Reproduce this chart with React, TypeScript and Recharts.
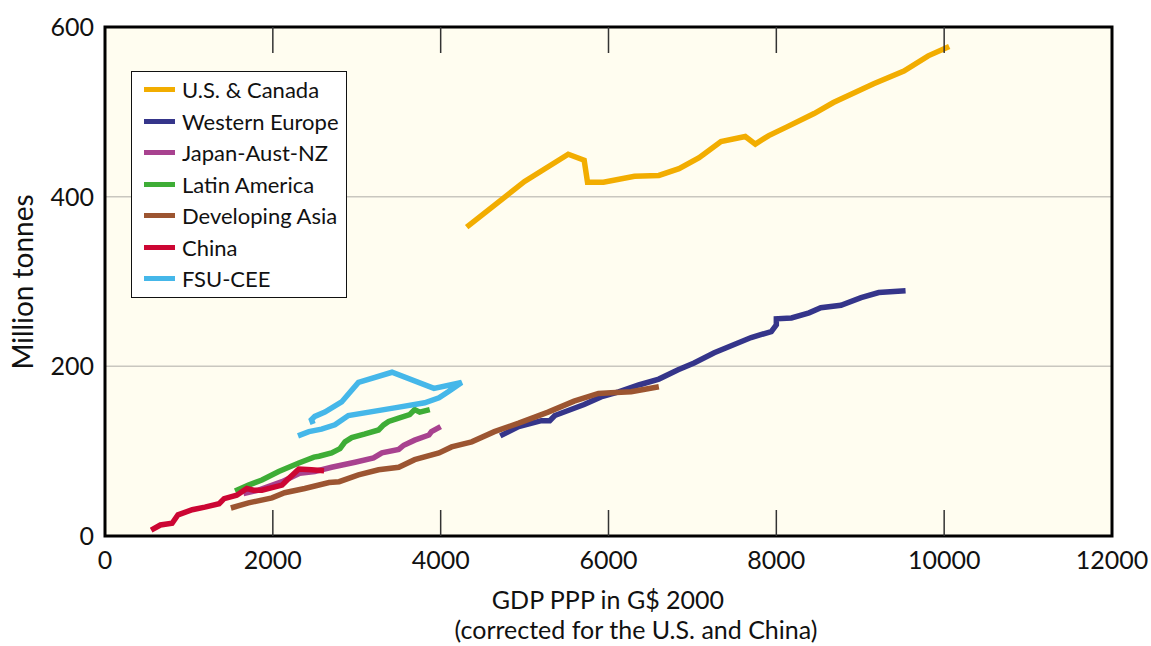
import {
  LineChart,
  Line,
  XAxis,
  YAxis,
  CartesianGrid,
  ReferenceArea,
  Legend,
} from "recharts";

const W = 1151;
const H = 646;
const PLOT_TOP = 27;
const PLOT_BOTTOM = 536;
const FONT = "Lato, 'DejaVu Sans', sans-serif";

const xTicks = [0, 2000, 4000, 6000, 8000, 10000, 12000];
const yTicks = [0, 200, 400, 600];

// GDP (x) and steel use (y), in time order
const usCanadaGdp = [4310, 5000, 5520, 5710, 5750, 5940, 6310, 6600, 6840, 7080, 7340, 7630, 7750, 7910, 8120, 8450, 8680, 9160, 9520, 9810, 10060];
const usCanadaSteel = [364, 418, 450, 443, 417, 417, 424, 425, 433, 446, 465, 471, 462, 472, 482, 498, 511, 533, 548, 566, 577];

const westEuropeGdp = [4710, 4930, 5200, 5300, 5360, 5710, 5910, 6120, 6360, 6600, 6830, 7020, 7260, 7700, 7940, 8000, 8000, 8180, 8390, 8530, 8770, 9010, 9220, 9540];
const westEuropeSteel = [118, 129, 136, 136, 142, 155, 164, 170, 178, 185, 196, 204, 216, 234, 241, 249, 256, 257, 263, 269, 272, 281, 287, 289];

const japanGdp = [1650, 1830, 2110, 2320, 2500, 2700, 2980, 3200, 3300, 3500, 3560, 3690, 3860, 3890, 4000];
const japanSteel = [50, 54, 64, 74, 76, 81, 87, 92, 98, 102, 107, 113, 119, 123, 129];

const latinGdp = [1550, 1710, 1870, 2070, 2310, 2490, 2550, 2700, 2800, 2860, 2940, 3090, 3260, 3320, 3380, 3500, 3630, 3690, 3750, 3870];
const latinSteel = [53, 60, 66, 76, 86, 93, 94, 98, 103, 111, 116, 120, 125, 131, 135, 139, 143, 149, 146, 149];

const devAsiaGdp = [1500, 1710, 1990, 2140, 2380, 2670, 2790, 3020, 3260, 3500, 3690, 3980, 4130, 4370, 4640, 4930, 5280, 5590, 5880, 6030, 6270, 6600];
const devAsiaSteel = [33, 39, 45, 51, 56, 63, 64, 72, 78, 81, 90, 98, 105, 111, 123, 133, 146, 159, 168, 169, 170, 176];

const chinaGdp = [550, 660, 800, 870, 1040, 1190, 1360, 1420, 1570, 1690, 1770, 1870, 2110, 2170, 2310, 2460, 2610];
const chinaSteel = [7, 13, 15, 25, 31, 34, 38, 44, 48, 56, 54, 54, 60, 66, 79, 78, 77];

const fsuGdp = [2480, 2460, 2500, 2620, 2820, 3020, 3420, 3920, 4250, 4090, 3980, 3810, 3450, 2900, 2740, 2580, 2430, 2300];
const fsuSteel = [132, 137, 141, 146, 158, 181, 193, 174, 181, 170, 163, 157, 151, 142, 131, 126, 123, 118];

const toPoints = (xs: number[], ys: number[]) => xs.map((x, i) => ({ x, y: ys[i] }));

const series = [
  { name: "U.S. & Canada", color: "#F2AD00", data: toPoints(usCanadaGdp, usCanadaSteel) },
  { name: "Western Europe", color: "#35358A", data: toPoints(westEuropeGdp, westEuropeSteel) },
  { name: "Japan-Aust-NZ", color: "#A8428F", data: toPoints(japanGdp, japanSteel) },
  { name: "Latin America", color: "#3EAD36", data: toPoints(latinGdp, latinSteel) },
  { name: "Developing Asia", color: "#9C5531", data: toPoints(devAsiaGdp, devAsiaSteel) },
  { name: "China", color: "#CC0633", data: toPoints(chinaGdp, chinaSteel) },
  { name: "FSU-CEE", color: "#45B7E9", data: toPoints(fsuGdp, fsuSteel) },
];

const XTick = (props: any) => {
  const { x, y, payload } = props;
  const v = payload.value;
  const inner = v !== 0 && v !== 12000;
  return (
    <g>
      {inner && (
        <>
          <line x1={x} x2={x} y1={PLOT_BOTTOM} y2={PLOT_BOTTOM - 26} stroke="#333" strokeWidth={1.5} />
          <line x1={x} x2={x} y1={PLOT_TOP} y2={PLOT_TOP + 26} stroke="#333" strokeWidth={1.5} />
        </>
      )}
      <text x={x} y={y + 33} textAnchor="middle" fontFamily={FONT} fontSize={25} fill="#111">
        {v}
      </text>
    </g>
  );
};

const YTick = (props: any) => {
  const { y, payload } = props;
  return (
    <text x={94} y={y} dy={9} textAnchor="end" fontFamily={FONT} fontSize={25} fill="#111">
      {payload.value}
    </text>
  );
};

const renderLegend = () => (
  <div
    style={{
      background: "#fff",
      border: "1.5px solid #111",
      padding: "2px 0 4px 12px",
      boxSizing: "border-box",
      width: 216,
      height: 227,
      fontFamily: FONT,
      fontSize: 22,
      color: "#111",
      whiteSpace: "nowrap",
    }}
  >
    {series.map((s) => (
      <div key={s.name} style={{ display: "flex", alignItems: "center", height: 31.5 }}>
        <span style={{ display: "inline-block", width: 31, height: 5, background: s.color, marginRight: 7 }} />
        <span>{s.name}</span>
      </div>
    ))}
  </div>
);

export default function App() {
  return (
    <div style={{ position: "absolute", left: 0, top: 0, width: W, height: H, background: "#fff" }}>
      <LineChart width={W} height={H} margin={{ top: PLOT_TOP, right: 39, bottom: 0, left: 0 }}>
        <CartesianGrid horizontal vertical={false} fill="#FFFDF0" stroke="#C9C7BF" strokeWidth={1.5} />
        <XAxis
          dataKey="x"
          type="number"
          domain={[0, 12000]}
          ticks={xTicks}
          height={110}
          tickSize={0}
          tickMargin={0}
          tickLine={false}
          axisLine={false}
          tick={<XTick />}
          interval={0}
          allowDataOverflow
          label={() => (
            <g fontFamily={FONT} fontSize={25} fill="#111">
              <text x={608} y={609} textAnchor="middle">GDP PPP in G$ 2000</text>
              <text x={636} y={639} textAnchor="middle">(corrected for the U.S. and China)</text>
            </g>
          )}
        />
        <YAxis
          type="number"
          domain={[0, 600]}
          ticks={yTicks}
          width={105}
          tickLine={false}
          axisLine={false}
          tick={<YTick />}
          interval={0}
          allowDataOverflow
          label={() => (
            <text
              x={33}
              y={282}
              transform="rotate(-90 33 282)"
              textAnchor="middle"
              fontFamily={FONT}
              fontSize={28}
              fill="#111"
            >
              Million tonnes
            </text>
          )}
        />
        <ReferenceArea x1={0} x2={12000} y1={0} y2={600} fill="none" stroke="#000" strokeWidth={3} ifOverflow="visible" />
        {series.map((s) => (
          <Line
            key={s.name}
            data={s.data}
            dataKey="y"
            name={s.name}
            stroke={s.color}
            strokeWidth={5.5}
            dot={false}
            activeDot={false}
            type="linear"
            isAnimationActive={false}
          />
        ))}
        <Legend
          content={renderLegend}
          layout="vertical"
          align="center"
          verticalAlign="middle"
          wrapperStyle={{ left: 131, top: 71, width: 216, height: 227 }}
        />
      </LineChart>
    </div>
  );
}
